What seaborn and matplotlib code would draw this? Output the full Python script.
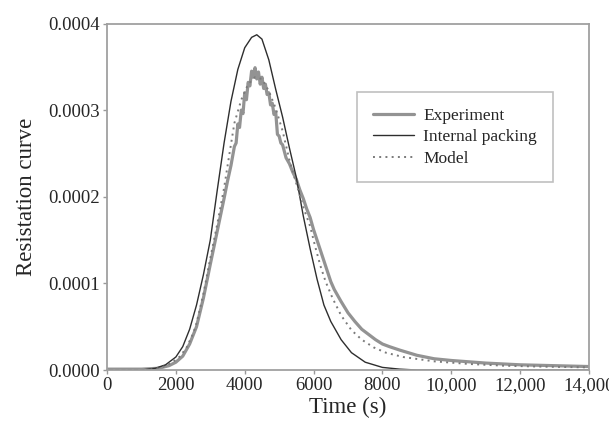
import matplotlib
matplotlib.use("Agg")
import matplotlib.pyplot as plt
import seaborn as sns
import pandas as pd

# values, y in units of 1e-4
time_packing = [0, 1000, 1400, 1700, 2000, 2200, 2400, 2600, 2800, 3000, 3200, 3400,
                3600, 3800, 4000, 4200, 4350, 4500, 4700, 4900, 5100, 5300, 5500,
                5700, 5900, 6100, 6300, 6500, 6800, 7100, 7500, 8000, 8500, 9000, 14000]
packing = [0.0, 0.0, 0.02, 0.06, 0.15, 0.27, 0.47, 0.75, 1.10, 1.50, 2.07, 2.62,
           3.10, 3.47, 3.72, 3.84, 3.87, 3.82, 3.58, 3.24, 2.92, 2.56, 2.22,
           1.78, 1.40, 1.05, 0.75, 0.56, 0.35, 0.20, 0.09, 0.03, 0.01, 0.0, 0.0]

time_model = [0, 1200, 1600, 1900, 2100, 2300, 2500, 2600, 2800, 3000, 3200, 3400,
              3550, 3700, 3900, 4100, 4300, 4500, 4700, 4900, 5100, 5300, 5500,
              5700, 5900, 6050, 6200, 6350, 6550, 6800, 7100, 7400, 7750, 8100,
              8600, 9500, 10500, 11500, 12500, 14000]
model = [0.0, 0.0, 0.03, 0.09, 0.15, 0.25, 0.42, 0.54, 0.88, 1.29, 1.68, 2.10,
         2.48, 2.85, 3.12, 3.30, 3.38, 3.36, 3.22, 3.02, 2.76, 2.42, 2.15,
         1.88, 1.66, 1.42, 1.20, 1.02, 0.83, 0.63, 0.46, 0.35, 0.26, 0.20,
         0.15, 0.10, 0.07, 0.05, 0.04, 0.03]

time_exp = [0, 500, 1000, 1500, 1800, 2000, 2200, 2400, 2600, 2800, 3000, 3200,
            3400, 3500, 3600, 3700, 3750, 3800, 3850, 3900, 3950, 4000, 4050,
            4100, 4150, 4200, 4250, 4300, 4350, 4400, 4450, 4500, 4550, 4600,
            4650, 4700, 4750, 4800, 4850, 4900, 4950, 5000, 5050, 5100, 5200,
            5300, 5400, 5500, 5600, 5700, 5800, 5900, 6000, 6100, 6200, 6300,
            6400, 6500, 6600, 6700, 6800, 7000, 7200, 7400, 7600, 7800, 8000,
            8200, 8500, 9000, 9500, 10000, 11000, 12000, 13000, 14000]
experiment = [0.01, 0.01, 0.01, 0.02, 0.05, 0.09, 0.16, 0.30, 0.50, 0.83, 1.22, 1.60,
              1.98, 2.18, 2.36, 2.58, 2.62, 2.84, 2.80, 3.00, 2.96, 3.20, 3.12,
              3.32, 3.28, 3.45, 3.38, 3.49, 3.36, 3.44, 3.30, 3.38, 3.25, 3.30,
              3.18, 3.20, 3.06, 3.08, 2.95, 2.98, 2.72, 2.70, 2.62, 2.60, 2.45,
              2.38, 2.28, 2.20, 2.08, 1.98, 1.86, 1.76, 1.62, 1.50, 1.38, 1.26,
              1.14, 1.02, 0.93, 0.86, 0.79, 0.66, 0.56, 0.47, 0.41, 0.35, 0.30,
              0.27, 0.23, 0.17, 0.13, 0.11, 0.08, 0.06, 0.05, 0.04]

x_ticks = [0, 2000, 4000, 6000, 8000, 10000, 12000, 14000]
x_labels = ["0", "2000", "4000", "6000", "8000", "10,000", "12,000", "14,000"]
y_ticks = [0.0, 0.0001, 0.0002, 0.0003, 0.0004]
y_labels = ["0.0000", "0.0001", "0.0002", "0.0003", "0.0004"]

sns.set_style("white")
plt.rcParams["font.family"] = ["Liberation Serif", "DejaVu Serif"]

df_exp = pd.DataFrame({"t": time_exp, "v": [v * 1e-4 for v in experiment]})
df_pack = pd.DataFrame({"t": time_packing, "v": [v * 1e-4 for v in packing]})
df_model = pd.DataFrame({"t": time_model, "v": [v * 1e-4 for v in model]})

fig = plt.figure(figsize=(6.09, 4.25), dpi=100)
ax = fig.add_axes([0.1757, 0.1294, 0.7915, 0.8153])

sns.lineplot(data=df_exp, x="t", y="v", ax=ax, color="#939393", linewidth=2.3,
             label="Experiment")
sns.lineplot(data=df_pack, x="t", y="v", ax=ax, color="#2e2e2e", linewidth=1.0,
             label="Internal packing")
sns.lineplot(data=df_model, x="t", y="v", ax=ax, color="#7a7a7a", linewidth=1.4,
             linestyle=(0, (1, 2.2)), label="Model")

ax.set_xlim(0, 14000)
ax.set_ylim(0, 0.0004)
ax.set_xticks(x_ticks)
ax.set_xticklabels(x_labels)
ax.set_yticks(y_ticks)
ax.set_yticklabels(y_labels)
ax.tick_params(axis="both", labelsize=13.5, length=3, width=1, color="#999999",
               direction="out", pad=2)
ax.tick_params(axis="x", bottom=True)
ax.tick_params(axis="y", left=True)

for s in ax.spines.values():
    s.set_color("#a0a0a0")
    s.set_linewidth(1.3)

ax.set_xlabel("Time (s)", fontsize=16.5, labelpad=2)
ax.set_ylabel("Resistation curve", fontsize=16.5, labelpad=8)

leg = ax.legend(loc="upper left", bbox_to_anchor=(0.519, 0.802), fontsize=12.5,
                frameon=True, fancybox=False, handlelength=2.4, handletextpad=0.5,
                labelspacing=0.3, borderpad=0.9, borderaxespad=0)
leg.get_frame().set_edgecolor("#b0b0b0")
leg.get_frame().set_linewidth(1.2)

fig.savefig("out.png", dpi=100)
